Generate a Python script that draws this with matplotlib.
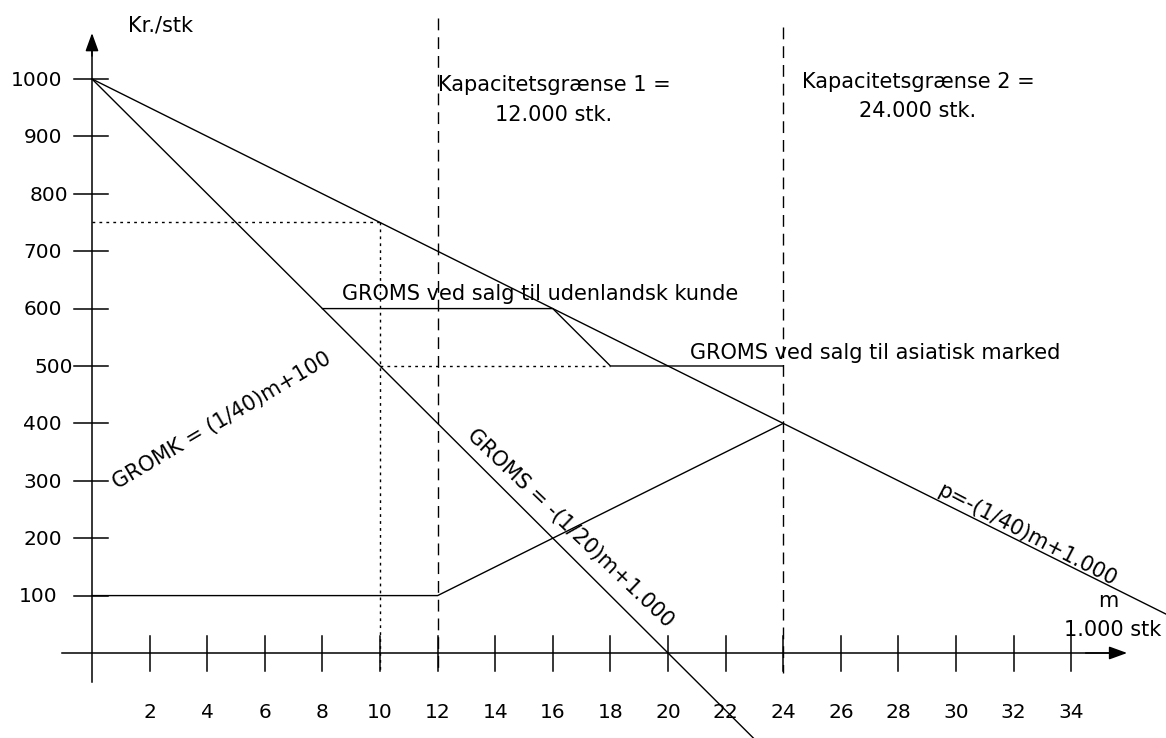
import matplotlib
matplotlib.use("Agg")
import matplotlib.pyplot as plt

# ---------------- data ----------------
x_ticks = [2, 4, 6, 8, 10, 12, 14, 16, 18, 20, 22, 24, 26, 28, 30, 32, 34]
y_ticks = [100, 200, 300, 400, 500, 600, 700, 800, 900, 1000]
y_tick_labels = ["100", "200", "300", "400", "500", "600", "700", "800", "900", "1000"]

# demand / price line p = -(1/40)m + 1000 (m in 1000 stk)
p_m = [0, 37.3]
p_v = [1000, 67.5]
# GROMS = -(1/20)m + 1000
groms_m = [0, 23]
groms_v = [1000, -150]
# GROMK
gromk_m = [0, 12, 24]
gromk_v = [100, 100, 400]
# GROMS ved salg til udenlandsk kunde / asiatisk marked
export_m = [8, 16, 18, 24]
export_v = [600, 600, 500, 500]
# capacity limits
cap_m = [12, 24]
cap_top = [1106, 1090]
# dotted guide lines
guide750_m = [0, 10]
guide750_v = [750, 750]
guide_vert_m = [10, 10]
guide_vert_v = [750, -30]
guide500_m = [10, 18]
guide500_v = [500, 500]

FS = 15
TFS = 14.5
fam = "DejaVu Sans"

fig = plt.figure(figsize=(11.66, 7.38), dpi=100)
ax = fig.add_axes([0, 0, 1, 1])
ax.set_xlim(-3.194, 37.29)
ax.set_ylim(-148.1, 1137.6)
ax.axis("off")

lw = 1.0
k = "black"

# axes with arrows
ax.plot([-1.04, 35.5], [0, 0], color=k, lw=1.1)
ax.plot([0, 0], [-50, 1060], color=k, lw=1.1)
ax.annotate("", xy=(35.94, 0), xytext=(34.5, 0),
            arrowprops=dict(arrowstyle="-|>,head_length=1.1,head_width=0.4",
                            color=k, lw=1.1, shrinkA=0, shrinkB=0))
ax.annotate("", xy=(0, 1080), xytext=(0, 1040),
            arrowprops=dict(arrowstyle="-|>,head_length=1.1,head_width=0.4",
                            color=k, lw=1.1, shrinkA=0, shrinkB=0))

# tick marks + labels
for t in x_ticks:
    ax.plot([t, t], [29, -31], color=k, lw=1.1)
    ax.text(t, -113, str(t), ha="center", va="baseline", fontsize=TFS, family=fam)
for v, lab in zip(y_ticks, y_tick_labels):
    ax.plot([-0.62, 0.56], [v, v], color=k, lw=1.1)
    xo = -1.04
    if lab == "500":
        xo = -0.65
    elif lab == "800":
        xo = -0.83
    elif lab == "100":
        xo = -1.21
    ax.text(xo, v - 12, lab, ha="right", va="baseline", fontsize=TFS, family=fam)

# main lines
ax.plot(p_m, p_v, color=k, lw=lw)
ax.plot(groms_m, groms_v, color=k, lw=lw)
ax.plot(gromk_m, gromk_v, color=k, lw=lw)
ax.plot(export_m, export_v, color=k, lw=lw)

# capacity dashed lines
for m, top in zip(cap_m, cap_top):
    ax.plot([m, m], [top, -35], color=k, lw=1.0, linestyle=(0, (8.5, 5)))

# dotted guides
dot = (0, (2, 3))
ax.plot(guide750_m, guide750_v, color=k, lw=1.0, linestyle=dot)
ax.plot(guide_vert_m, guide_vert_v, color=k, lw=1.0, linestyle=dot)
ax.plot(guide500_m, guide500_v, color=k, lw=1.0, linestyle=dot)

# texts
ax.text(1.25, 1082, "Kr./stk", ha="left", va="baseline", fontsize=FS, family=fam)
ax.text(16.04, 979, "Kapacitetsgrænse 1 =", ha="center", va="baseline", fontsize=FS, family=fam)
ax.text(16.04, 927, "12.000 stk.", ha="center", va="baseline", fontsize=FS, family=fam)
ax.text(28.68, 984, "Kapacitetsgrænse 2 =", ha="center", va="baseline", fontsize=FS, family=fam)
ax.text(28.68, 934, "24.000 stk.", ha="center", va="baseline", fontsize=FS, family=fam)
ax.text(8.68, 615, "GROMS ved salg til udenlandsk kunde", ha="left", va="baseline",
        fontsize=FS, family=fam)
ax.text(20.76, 512, "GROMS ved salg til asiatisk marked", ha="left", va="baseline",
        fontsize=FS, family=fam)
ax.text(4.50, 404, "GROMK = (1/40)m+100", ha="center", va="center", rotation=30.6,
        rotation_mode="anchor", fontsize=FS, family=fam)
ax.text(16.6, 218, "GROMS = -(1/20)m+1.000", ha="center", va="center", rotation=-43.7,
        rotation_mode="anchor", fontsize=FS, family=fam)
ax.text(32.45, 206, "p=-(1/40)m+1.000", ha="center", va="center", rotation=-27.5,
        rotation_mode="anchor", fontsize=FS, family=fam)
ax.text(35.28, 80, "m", ha="center", va="baseline", fontsize=FS, family=fam)
ax.text(35.45, 30, "1.000 stk", ha="center", va="baseline", fontsize=FS, family=fam)

fig.savefig("out.png", dpi=100, facecolor="white")
